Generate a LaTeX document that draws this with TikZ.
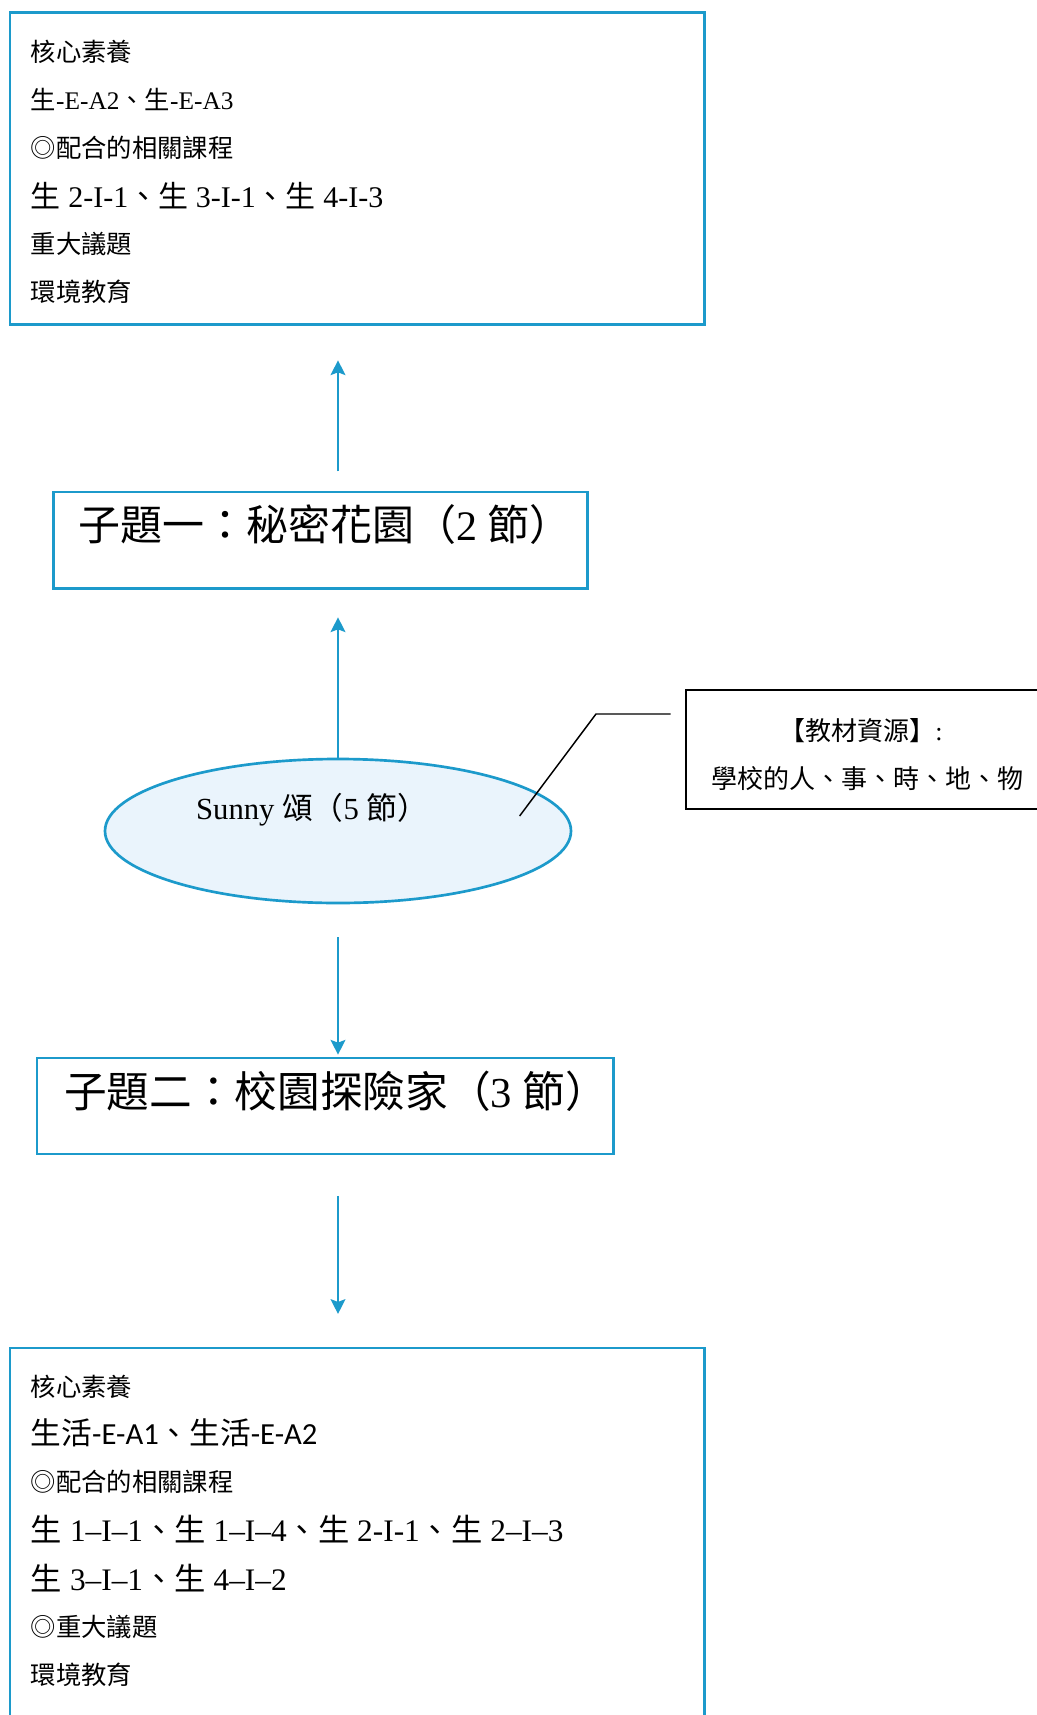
\documentclass[tikz,border=0pt]{standalone}
\usepackage{fontspec}
\setmainfont{Liberation Serif}
\newfontfamily\cjk{Noto Sans CJK TC}
\newfontfamily\carl{Carlito}
\usetikzlibrary{arrows.meta,shapes.geometric}
\definecolor{bblue}{HTML}{1C9ACB}
\definecolor{efill}{HTML}{EAF4FC}
\newcommand{\zht}[1]{{\cjk #1}}
\begin{document}
\begin{tikzpicture}[x=0.75pt,y=-0.75pt,
  bbox/.style={draw=bblue,line width=2pt,inner sep=0pt},
  arr/.style={draw=bblue,line width=2pt,-{Stealth[length=11pt,width=11pt,inset=2pt]}},
  txt/.style={anchor=west,inner sep=0pt,font=\fontsize{19}{22}\selectfont},
  bigtxt/.style={anchor=west,inner sep=0pt,font=\fontsize{22.5}{26}\selectfont},
  ttl/.style={inner sep=0pt,font=\fontsize{31.5}{36}\selectfont},
  notetxt/.style={inner sep=0pt,font=\fontsize{19.5}{22}\selectfont}]
\clip (0,0) rectangle (1037,1715);
\fill[white] (0,0) rectangle (1037,1715);
% top box
\node[bbox,anchor=north west,minimum width=520.7pt,minimum height=234pt] (top) at (8.75,11) {};
\node[txt] (a1) at (30.6,51.4) {\zht{核心素養}};
\node[txt] (a2) at (30.6,99.5) {\zht{生}-E-A2\zht{、生}-E-A3};
\node[txt] (a3) at (30.6,147.7) {\zht{◎配合的相關課程}};
\node[bigtxt] (a4) at (30.6,195.8) {\zht{生} 2-I-1\zht{、生} 3-I-1\zht{、生} 4-I-3};
\node[txt] (a5) at (30.6,244) {\zht{重大議題}};
\node[txt] (a6) at (30.6,292) {\zht{環境教育}};
% topic 1
\node[bbox,minimum width=400.35pt,minimum height=72.4pt] (t1) at (320.5,540.25) {};
\node[ttl] (t1txt) at (325,525) {\zht{子題一：秘密花園（}2 \zht{節）}};
% central ellipse
\node[ellipse,draw=bblue,fill=efill,line width=2pt,minimum width=349.5pt,minimum height=108pt,inner sep=0pt] (sunny) at (338,831) {};
\node[inner sep=0pt,font=\fontsize{23}{26}\selectfont] (sunnytxt) at (312,809.5) {Sunny \zht{頌（}5 \zht{節）}};
% note box
\node[draw=black,line width=1.5pt,minimum width=273pt,minimum height=89.6pt,inner sep=0pt] (note) at (868,749.75) {};
\node[notetxt] (n1) at (861,731) {\zht{【教材資源】}:};
\node[notetxt] (n2) at (867,779) {\zht{學校的人、事、時、地、物}};
\coordinate (cA) at (519.6,816);
\coordinate (cB) at (596,714);
\coordinate (cC) at (670.6,714);
\draw[line width=1.1pt] (cA) -- (cB) -- (cC);
% topic 2
\node[bbox,minimum width=432.5pt,minimum height=72pt] (t2) at (325.35,1106) {};
\node[ttl,font=\fontsize{32}{36}\selectfont] (t2txt) at (336,1091) {\zht{子題二：校園探險家（}3 \zht{節）}};
% bottom box
\node[bbox,anchor=north west,minimum width=520.7pt,minimum height=295pt] (bot) at (8.75,1346.6) {};
\node[txt] (b1) at (30.6,1387) {\zht{核心素養}};
\node[bigtxt,font=\fontsize{23}{26}\selectfont] (b2) at (30.6,1433) {\zht{生活}{\carl -E-A1}\zht{、生活}{\carl -E-A2}};
\node[txt] (b3) at (30.6,1482) {\zht{◎配合的相關課程}};
\node[bigtxt,font=\fontsize{23.5}{26}\selectfont] (b4) at (30.6,1529) {\zht{生} 1–I–1\zht{、生} 1–I–4\zht{、生} 2-I-1\zht{、生} 2–I–3};
\node[bigtxt,font=\fontsize{23.5}{26}\selectfont] (b5) at (30.6,1578) {\zht{生} 3–I–1\zht{、生} 4–I–2};
\node[txt] (b6) at (30.6,1627) {\zht{◎重大議題}};
\node[txt] (b7) at (30.6,1675) {\zht{環境教育}};
% arrows
\draw[arr,shorten <=14.5pt,shorten >=26pt] (sunny.north |- t1.north) -- (sunny.north |- top.south);
\draw[arr,shorten >=20.6pt] (sunny.north) -- (sunny.north |- t1.south);
\draw[arr,shorten <=24.75pt,shorten >=1.5pt] (sunny.south) -- (sunny.south |- t2.north);
\draw[arr,shorten <=30.4pt,shorten >=24.5pt] (sunny.south |- t2.south) -- (sunny.south |- bot.north);
\end{tikzpicture}
\end{document}
